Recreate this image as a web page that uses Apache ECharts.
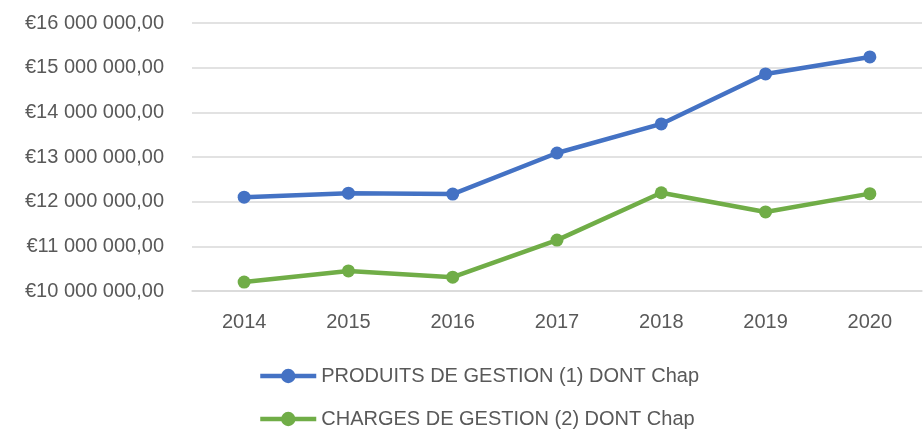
<!DOCTYPE html>
<html>
<head>
<meta charset="utf-8">
<script src="https://cdn.jsdelivr.net/npm/echarts@6/dist/echarts.min.js"></script>
<style>
  html, body { margin: 0; padding: 0; background: #fff; }
  #chart { width: 924px; height: 430px; }
</style>
</head>
<body>
<div id="chart"></div>
<script>
const years = ['2014', '2015', '2016', '2017', '2018', '2019', '2020']
const produits = [12100000, 12190000, 12170000, 13090000, 13740000, 14860000, 15240000]
const charges = [10200000, 10450000, 10310000, 11140000, 12200000, 11770000, 12180000]
const seriesNames = ['PRODUITS DE GESTION (1) DONT Chap', 'CHARGES DE GESTION (2) DONT Chap']

const font = 'Liberation Sans'
const textColor = '#595959'

const euro = (v) => '€' + String(Math.round(v)).replace(/\B(?=(\d{3})+(?!\d))/g, ' ') + ',00'

const lineSeries = (name, data, color) => ({
  name: name,
  type: 'line',
  data: data,
  symbol: 'circle',
  symbolSize: 13,
  lineStyle: { width: 4.5, color: color },
  itemStyle: { color: color },
  emphasis: { disabled: true }
})

// one legend per row, stacked like the original
const legendRow = (name, top) => ({
  left: 253,
  top: top,
  itemWidth: 56,
  itemHeight: 18,
  lineStyle: { width: 4.5 },
  textStyle: { fontSize: 20, color: textColor, fontFamily: font },
  data: [name]
})

const chart = echarts.init(document.getElementById('chart'))
chart.setOption({
  backgroundColor: '#fff',
  animation: false,
  textStyle: { fontFamily: font },
  grid: {
    left: 192,
    right: 2,
    top: 23,
    bottom: 139
  },
  legend: [
    legendRow(seriesNames[0], 361),
    legendRow(seriesNames[1], 404)
  ],
  xAxis: {
    type: 'category',
    data: years,
    boundaryGap: true,
    axisLine: { lineStyle: { color: '#d9d9d9', width: 1.5 } },
    axisTick: { show: false },
    axisLabel: { color: textColor, fontSize: 20, margin: 21 }
  },
  yAxis: {
    type: 'value',
    min: 10000000,
    max: 16000000,
    interval: 1000000,
    axisLine: { show: false },
    axisTick: { show: false },
    axisLabel: {
      color: textColor,
      fontSize: 20,
      margin: 28,
      formatter: euro
    },
    splitLine: { lineStyle: { color: '#d9d9d9', width: 1.5 } }
  },
  series: [
    lineSeries(seriesNames[0], produits, '#4472c4'),
    lineSeries(seriesNames[1], charges, '#70ad47')
  ]
})
</script>
</body>
</html>
